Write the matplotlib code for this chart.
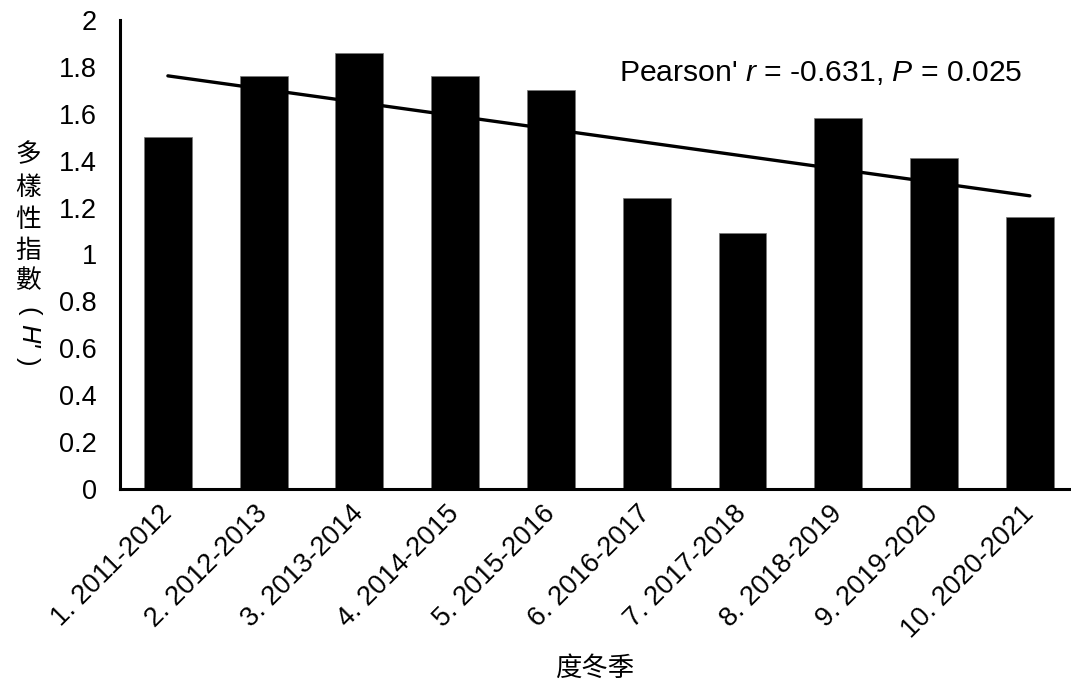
import numpy as np
import matplotlib
matplotlib.use("Agg")
import matplotlib.pyplot as plt

plt.rcParams['font.family'] = ['Liberation Sans', 'Noto Sans CJK TC', 'DejaVu Sans']
plt.rcParams['mathtext.fontset'] = 'custom'
plt.rcParams['mathtext.rm'] = 'Liberation Sans'
plt.rcParams['mathtext.it'] = 'Liberation Sans:italic'

seasons = ['1. 2011-2012', '2. 2012-2013', '3. 2013-2014', '4. 2014-2015',
           '5. 2015-2016', '6. 2016-2017', '7. 2017-2018', '8. 2018-2019',
           '9. 2019-2020', '10. 2020-2021']
diversity = [1.50, 1.76, 1.86, 1.76, 1.70, 1.24, 1.09, 1.58, 1.41, 1.16]
yticks = [0, 0.2, 0.4, 0.6, 0.8, 1, 1.2, 1.4, 1.6, 1.8, 2]
ylabel_chars = ['多', '樣', '性', '指', '數']

fig = plt.figure(figsize=(10.71, 6.95), dpi=100)
ax = fig.add_axes([120 / 1071, 206 / 695, 951 / 1071, 469 / 695])

x = np.arange(len(seasons))
ax.bar(x, diversity, width=0.5, color='black', edgecolor='#777777', linewidth=0.5, zorder=2)

# linear trend line over the seasons
k, b = np.polyfit(x, diversity, 1)
ax.plot([x[0], x[-1]], [k * x[0] + b, k * x[-1] + b], color='black', lw=2.4,
        solid_capstyle='round', zorder=3)

ax.set_xlim(-0.5, 9.43)
ax.set_ylim(0, 2)
ax.set_yticks(yticks)
ax.set_yticklabels([f'{t:g}' for t in yticks], fontsize=19.5)
ax.set_xticks(x)
ax.set_xticklabels(seasons, fontsize=19.5, rotation=45, ha='right', va='center',
                   rotation_mode='anchor')
ax.tick_params(axis='both', length=0)
ax.tick_params(axis='x', pad=15)
ax.tick_params(axis='y', pad=16.5)

for side in ['top', 'right']:
    ax.spines[side].set_visible(False)
for side in ['left', 'bottom']:
    ax.spines[side].set_linewidth(2.2)

ax.text((619 - 120) / 951, 0.888, "Pearson' $r$ = -0.631, $P$ = 0.025", transform=ax.transAxes,
        fontsize=21.7, ha='left', va='center')

# vertical stacked y label
cjk = ['Noto Sans CJK TC', 'DejaVu Sans']
ys = [155, 188, 220, 251, 281]
for ch, yy in zip(ylabel_chars, ys):
    fig.text(28 / 1071, 1 - yy / 695, ch, family=cjk, fontsize=18.5, ha='center', va='center')
for s, yy, st in [('(', 311, 'normal'), ("H'", 336, 'italic'), (')', 361, 'normal')]:
    fig.text(28 / 1071, 1 - yy / 695, s, family=['Liberation Sans'], style=st,
             fontsize=18.5, ha='center', va='center', rotation=-90)

fig.text(595 / 1071, 1 - 668 / 695, '度冬季', family=cjk, fontsize=19, ha='center', va='center')

fig.savefig('out.png', dpi=100)
